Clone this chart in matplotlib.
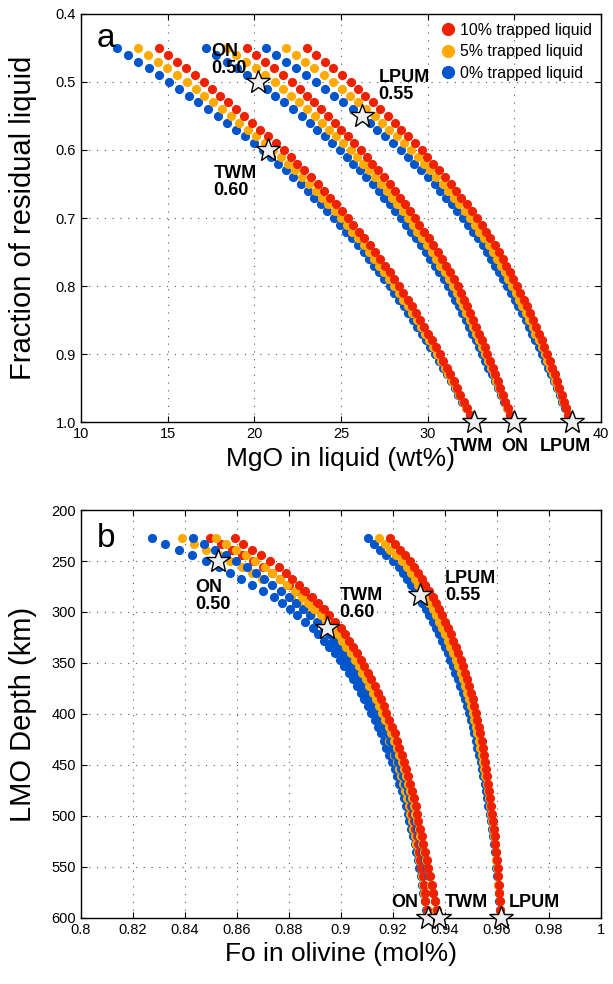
import matplotlib
matplotlib.use('Agg')
import matplotlib.pyplot as plt
from matplotlib.lines import Line2D

plt.rcParams['font.family'] = ['Liberation Sans', 'DejaVu Sans']

# fraction of residual liquid for every plotted point
frac = [0.45, 0.46, 0.47, 0.48, 0.49, 0.50, 0.51, 0.52, 0.53, 0.54,
        0.55, 0.56, 0.57, 0.58, 0.59, 0.60, 0.61, 0.62, 0.63, 0.64,
        0.65, 0.66, 0.67, 0.68, 0.69, 0.70, 0.71, 0.72, 0.73, 0.74,
        0.75, 0.76, 0.77, 0.78, 0.79, 0.80, 0.81, 0.82, 0.83, 0.84,
        0.85, 0.86, 0.87, 0.88, 0.89, 0.90, 0.91, 0.92, 0.93, 0.94,
        0.95, 0.96, 0.97, 0.98, 0.99, 1.00]

# LMO depth (km) matching each fraction
depth = [227.4, 233.1, 238.8, 244.5, 250.2, 256.0, 261.8, 267.6, 273.5, 279.4,
         285.3, 291.3, 297.3, 303.3, 309.4, 315.6, 321.8, 328.0, 334.2, 340.5,
         346.8, 353.2, 359.6, 366.0, 372.5, 379.0, 385.6, 392.2, 398.8, 405.5,
         412.3, 419.1, 426.0, 432.9, 439.9, 446.9, 454.0, 461.1, 468.3, 475.5,
         482.8, 490.2, 497.6, 505.0, 512.5, 520.1, 527.8, 535.5, 543.3, 551.2,
         559.2, 567.3, 575.4, 583.6, 591.8, 600.0]

# ---- panel a: MgO in liquid (wt%) ----
twm_mgo_0 = [12.10, 12.70, 13.30, 13.90, 14.50, 15.10, 15.66, 16.22, 16.78, 17.34,
             17.90, 18.42, 18.94, 19.46, 19.98, 20.50, 20.94, 21.38, 21.82, 22.26,
             22.70, 23.08, 23.46, 23.84, 24.22, 24.60, 24.94, 25.28, 25.62, 25.96,
             26.30, 26.60, 26.90, 27.20, 27.50, 27.80, 28.07, 28.34, 28.61, 28.88,
             29.15, 29.40, 29.65, 29.90, 30.15, 30.40, 30.63, 30.86, 31.09, 31.32,
             31.55, 31.77, 31.99, 32.21, 32.43, 32.65]
twm_mgo_5 = [13.30, 13.86, 14.42, 14.98, 15.54, 16.10, 16.61, 17.12, 17.63, 18.14,
             18.65, 19.14, 19.63, 20.12, 20.61, 21.10, 21.52, 21.93, 22.35, 22.76,
             23.18, 23.54, 23.91, 24.27, 24.64, 25.00, 25.33, 25.66, 25.98, 26.31,
             26.64, 26.93, 27.22, 27.50, 27.79, 28.08, 28.34, 28.60, 28.85, 29.11,
             29.37, 29.61, 29.84, 30.08, 30.31, 30.55, 30.77, 30.98, 31.20, 31.41,
             31.63, 31.83, 32.04, 32.24, 32.45, 32.65]
twm_mgo_10 = [14.50, 15.02, 15.54, 16.06, 16.58, 17.10, 17.56, 18.02, 18.48, 18.94,
              19.40, 19.86, 20.32, 20.78, 21.24, 21.70, 22.09, 22.48, 22.87, 23.26,
              23.65, 24.00, 24.35, 24.70, 25.05, 25.40, 25.72, 26.03, 26.35, 26.66,
              26.98, 27.26, 27.53, 27.81, 28.08, 28.36, 28.60, 28.85, 29.09, 29.34,
              29.58, 29.80, 30.03, 30.25, 30.48, 30.70, 30.90, 31.10, 31.30, 31.50,
              31.70, 31.89, 32.08, 32.27, 32.46, 32.65]

on_mgo_0 = [17.20, 17.80, 18.40, 19.00, 19.60, 20.20, 20.71, 21.22, 21.73, 22.24,
            22.75, 23.19, 23.63, 24.07, 24.51, 24.95, 25.33, 25.71, 26.09, 26.47,
            26.85, 27.17, 27.49, 27.81, 28.13, 28.45, 28.74, 29.03, 29.32, 29.61,
            29.90, 30.16, 30.42, 30.68, 30.94, 31.20, 31.40, 31.60, 31.80, 32.00,
            32.20, 32.39, 32.58, 32.77, 32.96, 33.15, 33.33, 33.51, 33.69, 33.87,
            34.05, 34.22, 34.39, 34.56, 34.73, 34.90]
on_mgo_5 = [18.40, 18.96, 19.52, 20.08, 20.64, 21.20, 21.66, 22.12, 22.58, 23.04,
            23.50, 23.91, 24.32, 24.73, 25.14, 25.55, 25.91, 26.27, 26.62, 26.97,
            27.33, 27.63, 27.94, 28.24, 28.55, 28.85, 29.13, 29.41, 29.68, 29.96,
            30.24, 30.49, 30.74, 30.98, 31.23, 31.48, 31.67, 31.86, 32.04, 32.23,
            32.42, 32.60, 32.77, 32.95, 33.12, 33.30, 33.47, 33.63, 33.80, 33.96,
            34.13, 34.28, 34.44, 34.59, 34.75, 34.90]
on_mgo_10 = [19.60, 20.12, 20.64, 21.16, 21.68, 22.20, 22.61, 23.02, 23.43, 23.84,
             24.25, 24.63, 25.01, 25.39, 25.77, 26.15, 26.48, 26.81, 27.14, 27.47,
             27.80, 28.09, 28.38, 28.67, 28.96, 29.25, 29.52, 29.78, 30.05, 30.31,
             30.58, 30.82, 31.05, 31.29, 31.52, 31.76, 31.93, 32.11, 32.28, 32.46,
             32.63, 32.79, 32.96, 33.12, 33.29, 33.45, 33.60, 33.75, 33.90, 34.05,
             34.20, 34.34, 34.48, 34.62, 34.76, 34.90]

lpum_mgo_0 = [20.65, 21.23, 21.81, 22.39, 22.97, 23.55, 24.08, 24.61, 25.14, 25.67,
              26.20, 26.65, 27.10, 27.55, 28.00, 28.45, 28.84, 29.23, 29.62, 30.01,
              30.40, 30.73, 31.06, 31.39, 31.72, 32.05, 32.33, 32.61, 32.89, 33.17,
              33.45, 33.68, 33.91, 34.14, 34.37, 34.60, 34.81, 35.02, 35.23, 35.44,
              35.65, 35.84, 36.03, 36.22, 36.41, 36.60, 36.77, 36.94, 37.11, 37.28,
              37.45, 37.61, 37.77, 37.93, 38.09, 38.25]
lpum_mgo_5 = [21.85, 22.39, 22.93, 23.47, 24.01, 24.55, 25.03, 25.51, 25.99, 26.47,
              26.95, 27.37, 27.79, 28.21, 28.63, 29.05, 29.42, 29.78, 30.15, 30.51,
              30.88, 31.19, 31.51, 31.82, 32.14, 32.45, 32.72, 32.99, 33.25, 33.52,
              33.79, 34.01, 34.23, 34.44, 34.66, 34.88, 35.08, 35.28, 35.47, 35.67,
              35.87, 36.05, 36.22, 36.40, 36.57, 36.75, 36.91, 37.06, 37.22, 37.37,
              37.53, 37.67, 37.82, 37.96, 38.11, 38.25]
lpum_mgo_10 = [23.05, 23.55, 24.05, 24.55, 25.05, 25.55, 25.98, 26.41, 26.84, 27.27,
               27.70, 28.09, 28.48, 28.87, 29.26, 29.65, 29.99, 30.33, 30.67, 31.01,
               31.35, 31.65, 31.95, 32.25, 32.55, 32.85, 33.11, 33.36, 33.62, 33.87,
               34.13, 34.34, 34.54, 34.75, 34.95, 35.16, 35.34, 35.53, 35.71, 35.90,
               36.08, 36.24, 36.41, 36.57, 36.74, 36.90, 37.04, 37.18, 37.32, 37.46,
               37.60, 37.73, 37.86, 37.99, 38.12, 38.25]

# ---- panel b: Fo in olivine ----
on_fo_0 = [0.8272, 0.8324, 0.8376, 0.8428, 0.8480, 0.8532, 0.8574, 0.8616, 0.8658, 0.8700,
           0.8742, 0.8772, 0.8802, 0.8832, 0.8862, 0.8892, 0.8913, 0.8934, 0.8955, 0.8976,
           0.8997, 0.9013, 0.9029, 0.9045, 0.9061, 0.9077, 0.9090, 0.9103, 0.9116, 0.9129,
           0.9142, 0.9153, 0.9164, 0.9175, 0.9186, 0.9197, 0.9206, 0.9215, 0.9224, 0.9233,
           0.9242, 0.9249, 0.9256, 0.9263, 0.9270, 0.9277, 0.9283, 0.9289, 0.9295, 0.9301,
           0.9307, 0.9312, 0.9317, 0.9323, 0.9328, 0.9333]
on_fo_5 = [0.8390, 0.8436, 0.8482, 0.8529, 0.8575, 0.8621, 0.8658, 0.8695, 0.8733, 0.8770,
           0.8807, 0.8833, 0.8860, 0.8886, 0.8913, 0.8939, 0.8958, 0.8977, 0.8997, 0.9016,
           0.9035, 0.9050, 0.9064, 0.9079, 0.9093, 0.9108, 0.9120, 0.9131, 0.9143, 0.9154,
           0.9166, 0.9176, 0.9186, 0.9195, 0.9205, 0.9215, 0.9223, 0.9231, 0.9238, 0.9246,
           0.9254, 0.9260, 0.9266, 0.9272, 0.9278, 0.9284, 0.9289, 0.9295, 0.9300, 0.9306,
           0.9311, 0.9315, 0.9320, 0.9324, 0.9329, 0.9333]
on_fo_10 = [0.8497, 0.8538, 0.8579, 0.8619, 0.8660, 0.8701, 0.8734, 0.8767, 0.8800, 0.8833,
            0.8866, 0.8889, 0.8912, 0.8936, 0.8959, 0.8982, 0.8999, 0.9017, 0.9034, 0.9052,
            0.9069, 0.9082, 0.9096, 0.9109, 0.9123, 0.9136, 0.9146, 0.9156, 0.9167, 0.9177,
            0.9187, 0.9196, 0.9205, 0.9213, 0.9222, 0.9231, 0.9238, 0.9245, 0.9251, 0.9258,
            0.9265, 0.9270, 0.9275, 0.9281, 0.9286, 0.9291, 0.9296, 0.9300, 0.9305, 0.9309,
            0.9314, 0.9318, 0.9322, 0.9325, 0.9329, 0.9333]

twm_fo_0 = [0.8430, 0.8472, 0.8514, 0.8556, 0.8598, 0.8640, 0.8672, 0.8704, 0.8736, 0.8768,
            0.8800, 0.8827, 0.8854, 0.8881, 0.8908, 0.8935, 0.8953, 0.8971, 0.8989, 0.9007,
            0.9025, 0.9040, 0.9055, 0.9070, 0.9085, 0.9100, 0.9113, 0.9126, 0.9139, 0.9152,
            0.9165, 0.9176, 0.9187, 0.9198, 0.9209, 0.9220, 0.9229, 0.9238, 0.9247, 0.9256,
            0.9265, 0.9272, 0.9279, 0.9286, 0.9293, 0.9300, 0.9308, 0.9315, 0.9323, 0.9330,
            0.9338, 0.9345, 0.9352, 0.9360, 0.9367, 0.9374]
twm_fo_5 = [0.8520, 0.8558, 0.8595, 0.8633, 0.8670, 0.8708, 0.8736, 0.8765, 0.8793, 0.8822,
            0.8850, 0.8874, 0.8898, 0.8923, 0.8947, 0.8971, 0.8988, 0.9004, 0.9021, 0.9037,
            0.9054, 0.9068, 0.9082, 0.9095, 0.9109, 0.9123, 0.9135, 0.9147, 0.9159, 0.9171,
            0.9183, 0.9193, 0.9203, 0.9214, 0.9224, 0.9234, 0.9242, 0.9250, 0.9258, 0.9266,
            0.9274, 0.9280, 0.9286, 0.9293, 0.9299, 0.9305, 0.9312, 0.9319, 0.9327, 0.9334,
            0.9341, 0.9348, 0.9354, 0.9361, 0.9367, 0.9374]
twm_fo_10 = [0.8591, 0.8625, 0.8659, 0.8693, 0.8727, 0.8761, 0.8787, 0.8812, 0.8838, 0.8863,
             0.8889, 0.8911, 0.8933, 0.8955, 0.8977, 0.8999, 0.9015, 0.9030, 0.9046, 0.9061,
             0.9077, 0.9090, 0.9103, 0.9116, 0.9129, 0.9142, 0.9153, 0.9164, 0.9175, 0.9186,
             0.9197, 0.9206, 0.9216, 0.9225, 0.9235, 0.9244, 0.9251, 0.9259, 0.9266, 0.9274,
             0.9281, 0.9287, 0.9293, 0.9298, 0.9304, 0.9310, 0.9317, 0.9323, 0.9330, 0.9336,
             0.9343, 0.9349, 0.9355, 0.9362, 0.9368, 0.9374]

lpum_fo_0 = [0.9102, 0.9126, 0.9151, 0.9175, 0.9200, 0.9224, 0.9239, 0.9254, 0.9270, 0.9285,
             0.9300, 0.9313, 0.9326, 0.9339, 0.9352, 0.9365, 0.9376, 0.9387, 0.9399, 0.9410,
             0.9421, 0.9431, 0.9440, 0.9450, 0.9459, 0.9469, 0.9476, 0.9484, 0.9491, 0.9499,
             0.9506, 0.9512, 0.9518, 0.9525, 0.9531, 0.9537, 0.9542, 0.9547, 0.9553, 0.9558,
             0.9563, 0.9567, 0.9572, 0.9576, 0.9581, 0.9585, 0.9588, 0.9591, 0.9595, 0.9598,
             0.9601, 0.9604, 0.9606, 0.9609, 0.9611, 0.9614]
lpum_fo_5 = [0.9147, 0.9168, 0.9190, 0.9211, 0.9233, 0.9254, 0.9269, 0.9283, 0.9298, 0.9312,
             0.9327, 0.9340, 0.9352, 0.9365, 0.9377, 0.9390, 0.9400, 0.9411, 0.9421, 0.9432,
             0.9442, 0.9451, 0.9460, 0.9468, 0.9477, 0.9486, 0.9493, 0.9499, 0.9506, 0.9512,
             0.9519, 0.9524, 0.9530, 0.9535, 0.9541, 0.9546, 0.9551, 0.9555, 0.9560, 0.9564,
             0.9569, 0.9573, 0.9577, 0.9581, 0.9585, 0.9589, 0.9592, 0.9595, 0.9597, 0.9600,
             0.9603, 0.9605, 0.9607, 0.9610, 0.9612, 0.9614]
lpum_fo_10 = [0.9190, 0.9208, 0.9227, 0.9245, 0.9264, 0.9282, 0.9296, 0.9310, 0.9324, 0.9338,
              0.9352, 0.9364, 0.9376, 0.9389, 0.9401, 0.9413, 0.9423, 0.9432, 0.9442, 0.9451,
              0.9461, 0.9469, 0.9477, 0.9485, 0.9493, 0.9501, 0.9507, 0.9513, 0.9519, 0.9525,
              0.9531, 0.9536, 0.9541, 0.9545, 0.9550, 0.9555, 0.9559, 0.9563, 0.9567, 0.9571,
              0.9575, 0.9578, 0.9582, 0.9585, 0.9589, 0.9592, 0.9594, 0.9597, 0.9599, 0.9602,
              0.9604, 0.9606, 0.9608, 0.9610, 0.9612, 0.9614]

# star markers (bulk starting compositions and plagioclase-in points)
star_a_x = [20.2, 20.8, 26.2, 32.7, 35.0, 38.3]
star_a_y = [0.50, 0.60, 0.55, 1.0, 1.0, 1.0]
star_b_x = [0.8526, 0.8947, 0.9305, 0.9333, 0.9376, 0.9614]
star_b_y = [250, 316, 283, 600, 600, 600]

labels = ['10% trapped liquid', '5% trapped liquid', '0% trapped liquid']
c_red = '#EE2200'
c_orange = '#FFAA00'
c_blue = '#0055CC'

fig = plt.figure(figsize=(6.13, 9.84), dpi=100)
ax1 = fig.add_axes([0.1321, 0.5711, 0.8483, 0.4147])
ax2 = fig.add_axes([0.1321, 0.0671, 0.8483, 0.4146])

ms = 6.6
for xs0, xs5, xs10 in [(twm_mgo_0, twm_mgo_5, twm_mgo_10),
                       (on_mgo_0, on_mgo_5, on_mgo_10),
                       (lpum_mgo_0, lpum_mgo_5, lpum_mgo_10)]:
    ax1.plot(xs0, frac, 'o', ms=ms, color=c_blue, mec='none')
    ax1.plot(xs5, frac, 'o', ms=ms, color=c_orange, mec='none')
    ax1.plot(xs10, frac, 'o', ms=ms, color=c_red, mec='none')

for xs0, xs5, xs10 in [(on_fo_0, on_fo_5, on_fo_10),
                       (twm_fo_0, twm_fo_5, twm_fo_10),
                       (lpum_fo_0, lpum_fo_5, lpum_fo_10)]:
    ax2.plot(xs0, depth, 'o', ms=ms, color=c_blue, mec='none')
    ax2.plot(xs5, depth, 'o', ms=ms, color=c_orange, mec='none')
    ax2.plot(xs10, depth, 'o', ms=ms, color=c_red, mec='none')

ax1.plot(star_a_x, star_a_y, '*', ms=18, mfc='#EEEEEE', mec='k', mew=1.0,
         zorder=5, clip_on=False)
ax2.plot(star_b_x, star_b_y, '*', ms=18, mfc='#EEEEEE', mec='k', mew=1.0,
         zorder=5, clip_on=False)

bold = dict(fontsize=13, fontweight='bold', linespacing=1.0, va='center', ha='left')
ax1.text(17.5, 0.467, 'ON\n0.50', **bold)
ax1.text(27.17, 0.506, 'LPUM\n0.55', **bold)
ax1.text(17.64, 0.647, 'TWM\n0.60', **bold)
ax1.text(32.5, 1.036, 'TWM', ha='center', va='center', fontsize=13,
         fontweight='bold', clip_on=False)
ax1.text(35.0, 1.036, 'ON', ha='center', va='center', fontsize=13,
         fontweight='bold', clip_on=False)
ax1.text(37.95, 1.036, 'LPUM', ha='center', va='center', fontsize=13,
         fontweight='bold', clip_on=False)

ax2.text(0.8438, 284, 'ON\n0.50', **bold)
ax2.text(0.8994, 292, 'TWM\n0.60', **bold)
ax2.text(0.9401, 275, 'LPUM\n0.55', **bold)
ax2.text(0.9195, 585, 'ON', **bold)
ax2.text(0.9401, 585, 'TWM', **bold)
ax2.text(0.9645, 585, 'LPUM', **bold)

ax1.text(0.03, 0.94, 'a', transform=ax1.transAxes, fontsize=24, va='center')
ax2.text(0.03, 0.93, 'b', transform=ax2.transAxes, fontsize=24, va='center')

handles = [Line2D([], [], ls='none', marker='o', ms=9.5, color=c, mec='none')
           for c in (c_red, c_orange, c_blue)]
ax1.legend(handles, labels, loc='upper right', frameon=False, fontsize=11.4,
           handletextpad=0.15, labelspacing=0.42, borderaxespad=0.15,
           handlelength=1.2)

ax1.set_xlim(10, 40)
ax1.set_ylim(1.0, 0.4)
ax1.set_xticks([10, 15, 20, 25, 30, 35, 40])
ax1.set_xticklabels(['10', '15', '20', '25', '30', '', '40'])
ax1.set_yticks([0.4, 0.5, 0.6, 0.7, 0.8, 0.9, 1.0])
ax1.set_yticklabels(['0.4', '0.5', '0.6', '0.7', '0.8', '0.9', '1.0'])
ax1.set_xlabel('MgO in liquid (wt%)', fontsize=19)
ax1.set_ylabel('Fraction of residual liquid', fontsize=21)

ax2.set_xlim(0.8, 1.0)
ax2.set_ylim(600, 200)
ax2.set_xticks([0.8, 0.82, 0.84, 0.86, 0.88, 0.9, 0.92, 0.94, 0.96, 0.98, 1.0])
ax2.set_xticklabels(['0.8', '0.82', '0.84', '0.86', '0.88', '0.9', '0.92',
                     '0.94', '0.96', '0.98', '1'])
ax2.set_yticks([200, 250, 300, 350, 400, 450, 500, 550, 600])
ax2.set_xlabel('Fo in olivine (mol%)', fontsize=19)
ax2.set_ylabel('LMO Depth (km)', fontsize=21)

for ax in (ax1, ax2):
    ax.grid(True, ls=(0, (1, 6)), lw=0.8, color='0.35')
    ax.set_axisbelow(True)
    ax.tick_params(direction='in', top=True, right=True, length=4,
                   labelsize=10.5, width=0.8)
    for s in ax.spines.values():
        s.set_linewidth(1.0)
    ax.xaxis.set_label_coords(0.5, -0.06)
    ax.yaxis.set_label_coords(-0.085, 0.5)

fig.savefig('out.png', dpi=100)
